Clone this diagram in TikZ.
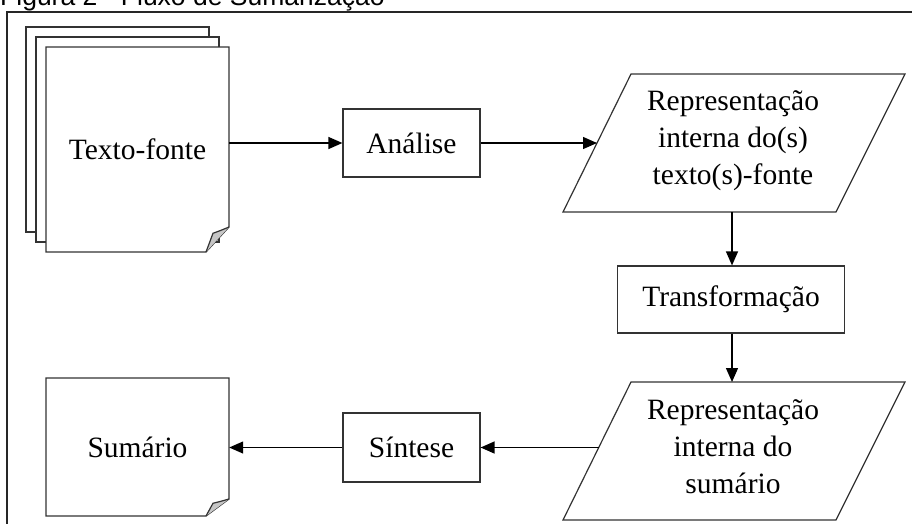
\documentclass[tikz,border=0pt]{standalone}
\usepackage{fontspec}
\setmainfont{Liberation Serif}
\newfontfamily\captionfont{Liberation Sans}
\usetikzlibrary{arrows.meta,calc}

% page curl at the lower right corner of a document symbol
% #1 = corner, #2 = height of the folded part
\newcommand{\pagecurl}[2]{%
  \fill[gray!45] ($(#1)+(-23,0)$) .. controls ($(#1)+(-20,-0.35*#2)$) .. ($(#1)+(-16,-0.75*#2)$)
        .. controls ($(#1)+(-9,-0.85*#2)$) .. ($(#1)+(0,-#2)$) -- cycle;
  \draw[docline] ($(#1)+(-23,0)$) .. controls ($(#1)+(-20,-0.35*#2)$) .. ($(#1)+(-16,-0.75*#2)$)
        .. controls ($(#1)+(-9,-0.85*#2)$) .. ($(#1)+(0,-#2)$);
}

\begin{document}
\begin{tikzpicture}[x=1pt,y=-1pt,
  docline/.style={draw=black!80,line width=1.2pt,line join=miter},
  flow/.style={draw=black,line width=1.3pt,-{Triangle[length=14pt,width=12pt]}},
  lbl/.style={font=\fontsize{29.5}{37}\selectfont,align=center,text=black,inner sep=0pt},
  procbox/.style={lbl,draw=black!80,line width=1.2pt,fill=white},
  docarea/.style={lbl,minimum width=183pt}]

\useasboundingbox (0,0) rectangle (912,523);
\clip (0,0) rectangle (912,523);

% caption and frame
\node[anchor=base west,inner sep=0pt,font=\captionfont\fontsize{26.5}{30}\selectfont] (caption) at (0,5)
  {Figura 2 - Fluxo de Sumarização};
\draw[draw=black!85,line width=1.3pt] (7,600) -- (7,12) -- (1000,12);

% stacked source documents
\draw[docline,fill=white] (26,27) rectangle (209,232);
\draw[docline,fill=white] (36,37) rectangle (219,242);
\draw[docline,fill=white] (46,47) -- (229,47) -- (229,227) -- (206,252) -- (46,252) -- cycle;
\pagecurl{229,252}{25}
\node[docarea,minimum height=205pt] (src) at (137.5,149.5) {Texto-fonte};

% analysis
\node[procbox,minimum width=137pt,minimum height=68pt] (ana) at (411.5,143) {Análise};

% internal representation of the source text(s)
\coordinate (p1bl) at (563,212);
\coordinate (p1tl) at (631,74);
\coordinate (p1tr) at (905,74);
\coordinate (p1br) at (836,212);
\draw[docline,fill=white] (p1bl) -- (p1tl) -- (p1tr) -- (p1br) -- cycle;
\node[lbl] (rep1) at (733,141) {Representação\\interna do(s)\\texto(s)-fonte};
\coordinate (p1in) at ($(p1bl)!0.5!(p1tl)$);
\coordinate (p1out) at (732,212);

% transformation
\node[procbox,minimum width=227pt,minimum height=67pt] (trans) at (731,299.5) {Transformação};

% internal representation of the summary
\coordinate (p2bl) at (563,520);
\coordinate (p2tl) at (631,382);
\coordinate (p2tr) at (905,382);
\coordinate (p2br) at (836,520);
\draw[docline,fill=white] (p2bl) -- (p2tl) -- (p2tr) -- (p2br) -- cycle;
\node[lbl] (rep2) at (733,447) {Representação\\interna do\\sumário};
\coordinate (p2in) at (732,382);
\coordinate (p2out) at ($(p2bl)!0.525!(p2tl)$);

% synthesis
\node[procbox,minimum width=137pt,minimum height=69pt] (syn) at (411.5,447.5) {Síntese};

% summary document
\draw[docline,fill=white] (46,378) -- (229,378) -- (229,499) -- (206,516) -- (46,516) -- cycle;
\pagecurl{229,516}{17}
\node[docarea,minimum height=138pt] (sum) at (137.5,447) {Sumário};

% connectors
\draw[flow] (src.east |- ana.west) -- (ana.west);
\draw[flow] (ana.east) -- (ana.east -| p1in);
\draw[flow] (p1out) -- (p1out |- trans.north);
\draw[flow] (p1out |- trans.south) -- (p2in);
\draw[flow] (syn.east -| p2out) -- (syn.east);
\draw[flow] (syn.west) -- (syn.west -| sum.east);
\end{tikzpicture}
\end{document}
